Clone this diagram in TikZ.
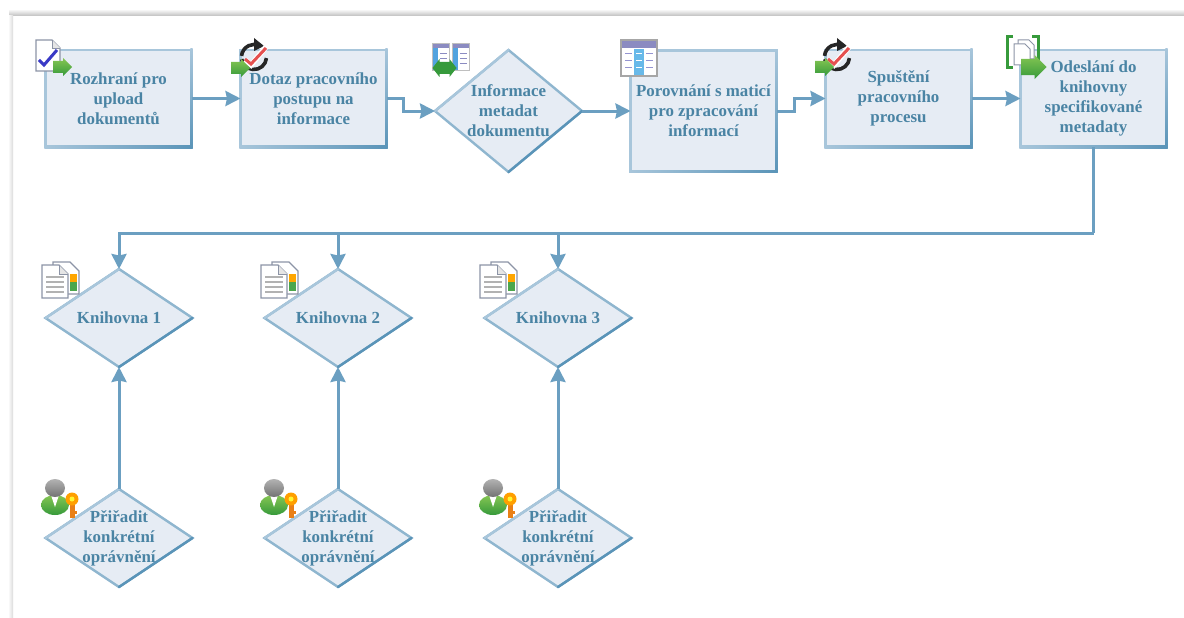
\documentclass[tikz,border=0pt]{standalone}
\usepackage{fontspec}
\setmainfont{Liberation Serif}
\usetikzlibrary{shapes.geometric,arrows.meta,positioning}
\definecolor{txt}{HTML}{4A84A4}
\definecolor{lite}{HTML}{A8C6DB}
\definecolor{mid}{HTML}{8FB6CF}
\definecolor{dark}{HTML}{5A94B8}
\definecolor{flowc}{HTML}{6B9FC1}
\definecolor{fillc}{HTML}{E6ECF4}
\definecolor{gA}{HTML}{86C653}
\definecolor{gB}{HTML}{369A3B}
\definecolor{pg}{HTML}{8C94A6}
\tikzset{
  every node/.style={font=\fontsize{16.9}{20}\selectfont\bfseries\color{txt},align=center,outer sep=0pt},
  rectbox/.style={draw=lite,fill=fillc,line width=2.4pt,minimum width=146pt,minimum height=97pt,inner sep=0pt},
  tallbox/.style={rectbox,minimum height=121pt},
  diabox/.style={diamond,draw=mid,fill=fillc,line width=2.4pt,minimum width=147pt,minimum height=98pt,inner sep=0pt,aspect=1.5},
  talldia/.style={diabox,minimum height=122pt,aspect=1.2},
  flow/.style={draw=flowc,line width=3pt},
  flowa/.style={flow,-{Stealth[length=15pt,width=15pt,inset=1.5pt]}},
  dtext/.style={label={[inner sep=0pt]center:{#1}}},
}
\newcommand\greenarr[3]{\begin{scope}[shift={(#1,#2)},scale=#3]
  \shade[top color=gA,bottom color=gB] (0,-6)--(10,-6)--(10,-9)--(19,0)--(10,9)--(10,6)--(0,6)--cycle;
\end{scope}}
\newcommand\clockicon[2]{\begin{scope}[shift={(#1,#2)},yscale=-1]
  \draw[black!85,line width=3.6pt] (175:12.5) arc (175:70:12.5);
  \fill[black!85] (0,19)--(10,11)--(0,6)--cycle;
  \draw[black!85,line width=3.6pt] (-5:12.5) arc (-5:-170:12.5);
  \draw[white,line width=5.5pt] (-9,-3)--(-3,-8)--(12,10);
  \draw[red!65!white!90!black,line width=3pt] (-9,-2)--(-3,-7)--(12,9);
\end{scope}}
\newcommand\doccheck[2]{\begin{scope}[shift={(#1,#2)},yscale=-1]
  \fill[white] (0,0)--(16,0)--(24,-8)--(24,-31)--(0,-31)--cycle;
  \draw[pg,line width=1.2pt] (0,0)--(16,0)--(24,-8)--(24,-31)--(0,-31)--cycle;
  \draw[pg,line width=.8pt,fill=black!10] (16,0)--(16,-8)--(24,-8);
  \draw[blue!55!gray,line width=3pt] (3,-20)--(8,-25)--(21,-10);
\end{scope}}
\newcommand\tabmini[2]{\begin{scope}[shift={(#1,#2)},yscale=-1]
  \fill[white] (0,0) rectangle (17,-27);
  \fill[cyan!70!blue!70] (0,-4) rectangle (6,-27);
  \fill[blue!30!gray!70] (0,0) rectangle (17,-5);
  \draw[black!25,line width=.8pt] (0,0) rectangle (17,-27);
  \foreach \yy in {-10,-15,-20}{\draw[blue!30!gray!70,line width=.8pt] (8,\yy)--(15,\yy);}
\end{scope}}
\newcommand\tabbig[2]{\begin{scope}[shift={(#1,#2)},yscale=-1]
  \fill[white] (0,0) rectangle (36,-36);
  \fill[cyan!80!blue!60] (13,-9) rectangle (23,-36);
  \fill[blue!30!gray!70] (0,0) rectangle (36,-8);
  \draw[black!35,line width=1.2pt] (0,0) rectangle (36,-36);
  \foreach \yy in {-14,-21,-28}{
    \draw[blue!40!gray!60,line width=1pt] (4,\yy)--(11,\yy);
    \draw[white,line width=1pt] (15,\yy)--(21,\yy);
    \draw[blue!40!gray!60,line width=1pt] (25,\yy)--(32,\yy);}
\end{scope}}
\newcommand\bracketicon[2]{\begin{scope}[shift={(#1,#2)},yscale=-1]
  \draw[gB,line width=3pt] (6,0)--(0,0)--(0,-31)--(6,-31);
  \draw[gB,line width=3pt] (25,0)--(31,0)--(31,-31)--(25,-31);
  \draw[pg,line width=1pt,fill=white] (11,-3)--(22,-3)--(27,-8)--(27,-22)--(11,-22)--cycle;
  \draw[pg,line width=1pt,fill=white] (7,-7)--(18,-7)--(23,-12)--(23,-28)--(7,-28)--cycle;
\end{scope}}
\newcommand\libicon[2]{\begin{scope}[shift={(#1,#2)},yscale=-1]
  \draw[pg,line width=1.4pt,fill=white] (11,0)--(28,0)--(37,-9)--(37,-32)--(11,-32)--cycle;
  \fill[orange!70!yellow] (28,-12) rectangle (35,-20);
  \fill[green!50!black!70] (28,-20) rectangle (35,-29);
  \draw[pg,line width=1.4pt,fill=white] (0,-3)--(17,-3)--(26,-12)--(26,-36)--(0,-36)--cycle;
  \draw[pg,line width=.8pt,fill=black!10] (17,-3)--(17,-12)--(26,-12);
  \foreach \yy in {-15,-20,-25,-30}{\draw[black!30,line width=1.2pt] (4,\yy)--(22,\yy);}
\end{scope}}
\newcommand\keyuser[2]{\begin{scope}[shift={(#1,#2)},yscale=-1]
  \shade[top color=gA,bottom color=gB] (13,-25) ellipse (14 and 10);
  \fill[white] (9,-15)--(17,-15)--(13,-27)--cycle;
  \shade[top color=black!30,bottom color=black!55] (13,-8) ellipse (10 and 9);
  \fill[orange!65!brown] (27.5,-20) rectangle (32.5,-38);
  \fill[orange!65!brown] (32.5,-31) rectangle (35,-34);
  \fill[orange!75!yellow] (30,-19) circle (6.5);
  \fill[yellow!80!white] (30,-19) circle (2.5);
\end{scope}}
\begin{document}
\begin{tikzpicture}[x=1pt,y=-1pt]
\useasboundingbox (0,0) rectangle (1184,618);
\fill[white] (0,0) rectangle (1184,618);
\shade[top color=white,bottom color=black!25] (9,9) rectangle (1184,16);
\shade[left color=white,right color=black!14] (8,16) rectangle (13,618);

\node[rectbox] (r1) at (118.5,98.5) {Rozhraní pro\\upload\\dokumentů};
\node[rectbox] (r2) at (313.5,98.5) {Dotaz pracovního\\postupu na\\informace};
\node[talldia,dtext={Informace\\metadat\\dokumentu}] (dm) at (508.5,111) {};
\node[tallbox] (r3) at (703.5,111) {Porovnání s maticí\\pro zpracování\\informací};
\node[rectbox] (r4) at (898.5,98.5) {Spuštění\\pracovního\\procesu};
\node[rectbox] (r5) at (1093.5,98.5) {Odeslání do\\knihovny\\specifikované\\metadaty};

\node[diabox,dtext={Knihovna 1}] (k1) at (119,318) {};
\node[diabox,dtext={Knihovna 2}] (k2) at (338,318) {};
\node[diabox,dtext={Knihovna 3}] (k3) at (558,318) {};
\node[diabox,dtext={Přiřadit\\konkrétní\\oprávnění}] (p1) at (119,538) {};
\node[diabox,dtext={Přiřadit\\konkrétní\\oprávnění}] (p2) at (338,538) {};
\node[diabox,dtext={Přiřadit\\konkrétní\\oprávnění}] (p3) at (558,538) {};

\foreach \n in {r1,r2,r3,r4,r5}{
  \shade[left color=lite,right color=dark] ([xshift=-1.2pt,yshift=1.2pt]\n.south west) rectangle ([xshift=1.2pt,yshift=-1.2pt]\n.south east);
  \shade[top color=lite,bottom color=dark] ([xshift=-1.2pt,yshift=1.2pt]\n.north east) rectangle ([xshift=1.2pt,yshift=-1.2pt]\n.south east);
}
\foreach \n in {dm,k1,k2,k3,p1,p2,p3}{
  \draw[lite,line width=2.4pt,line cap=round] (\n.west)--(\n.north);
  \draw[dark,line width=2.4pt,line cap=round] (\n.east)--(\n.south);
}

\draw[flowa] (r1.east)--(r2.west);
\draw[flowa] (r2.east)--++(17,0)|-(dm.west);
\draw[flowa] (dm.east)--(r3.west);
\draw[flowa] (r3.east)--++(18,0)|-(r4.west);
\draw[flowa] (r4.east)--(r5.west);
\coordinate (bus) at (1093.5,233);
\draw[flow] (r5.south)--(bus);
\draw[flowa] (bus)-|(k1.north);
\draw[flowa] (bus)-|(k2.north);
\draw[flowa] (bus)-|(k3.north);
\draw[flowa] (p1.north)--(k1.south);
\draw[flowa] (p2.north)--(k2.south);
\draw[flowa] (p3.north)--(k3.south);

\doccheck{36}{40}
\greenarr{53}{67}{1}
\clockicon{254}{57}
\greenarr{231}{68}{1}
\tabmini{432}{43}
\tabmini{452}{43}
\begin{scope}[shift={(444.5,68)}]
  \fill[gB] (-12,0)--(-5,-9)--(-5,-6)--(5,-6)--(5,-9)--(12,0)--(5,9)--(5,6)--(-5,6)--(-5,9)--cycle;
\end{scope}
\tabbig{621}{40}
\clockicon{837}{57}
\greenarr{815}{67}{1}
\bracketicon{1007}{37}
\greenarr{1021}{67}{1.35}
\libicon{42}{262}
\libicon{261}{262}
\libicon{480}{262}
\keyuser{42}{480}
\keyuser{261}{480}
\keyuser{480}{480}
\end{tikzpicture}
\end{document}
